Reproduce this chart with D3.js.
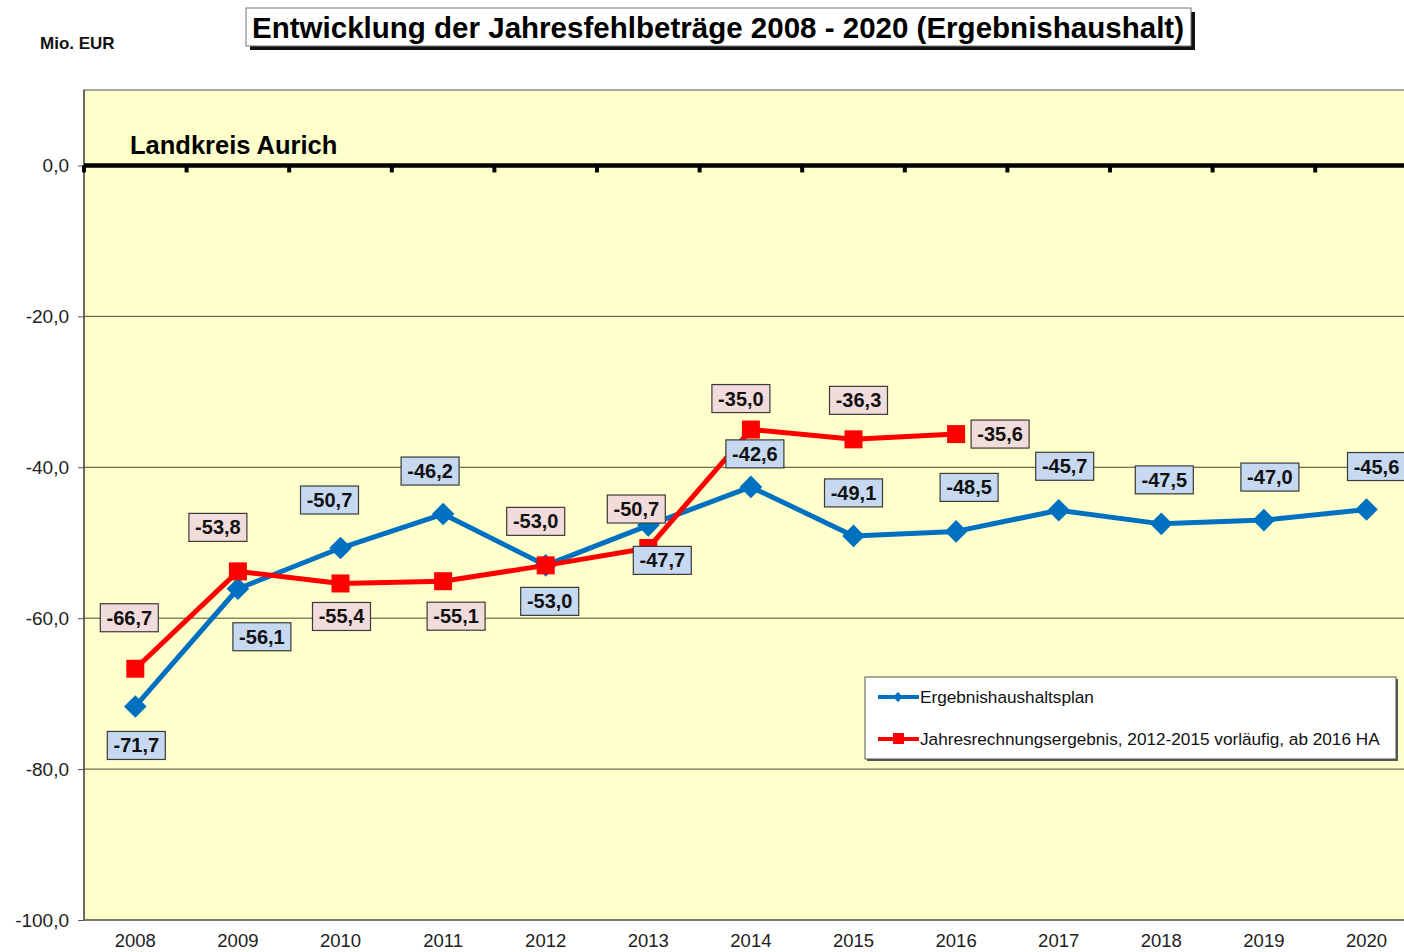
<!DOCTYPE html>
<html>
<head>
<meta charset="utf-8">
<script src="https://cdn.jsdelivr.net/npm/d3@7"></script>
<style>
  body { margin: 0; background: #fff; }
  svg { display: block; font-family: "Liberation Sans", Arial, sans-serif; }
</style>
</head>
<body>
<svg id="chart" width="1404" height="952"></svg>
<script>
// data
const years = ["2008", "2009", "2010", "2011", "2012", "2013", "2014", "2015", "2016", "2017", "2018", "2019", "2020"];
const planValues = [-71.7, -56.1, -50.7, -46.2, -53.0, -47.7, -42.6, -49.1, -48.5, -45.7, -47.5, -47.0, -45.6];
const resultValues = [-66.7, -53.8, -55.4, -55.1, -53.0, -50.7, -35.0, -36.3, -35.6];
const yTicks = [0, -20, -40, -60, -80, -100];

// where each data label sits relative to its point (layout, not data)
const planLabelOffset = [[1, 39], [24, 48], [-11, -48], [-13, -43], [4, 36], [14, 35], [4, -33], [0, -43], [13, -44], [6, -44], [3, -44], [6, -43], [10, -43]];
const resultLabelOffset = [[-6, -51], [-20, -44], [1, 33], [13, 35], [-10, -44], [-12, -39], [-10, -31], [5, -39], [44, 0]];

const svg = d3.select("#chart");
const fmt = v => d3.format(".1f")(v).replace(".", ",").replace("−", "-");

const margin = {left: 84, top: 90};
const bandW = 102.6;
const x = d3.scaleBand().domain(years).range([margin.left, margin.left + bandW * years.length]);
const y = d3.scaleLinear().domain([10, -100]).range([margin.top, 920]);
const cx = yr => x(yr) + x.bandwidth() / 2;

// plot area
svg.append("rect")
  .attr("x", x.range()[0]).attr("y", y(10))
  .attr("width", x.range()[1] - x.range()[0]).attr("height", y(-100) - y(10))
  .attr("fill", "#ffffcc").attr("stroke", "#8a8a80").attr("stroke-width", 1.5);
svg.append("line")
  .attr("x1", x.range()[0]).attr("x2", x.range()[0])
  .attr("y1", y(10)).attr("y2", y(-100))
  .attr("stroke", "#55554a").attr("stroke-width", 1.5);

// gridlines
svg.append("g").selectAll("line")
  .data(yTicks.filter(d => d !== 0 && d !== -100))
  .join("line")
  .attr("x1", x.range()[0]).attr("x2", x.range()[1])
  .attr("y1", d => y(d)).attr("y2", d => y(d))
  .attr("stroke", "#4a4a3a").attr("stroke-width", 1);
svg.append("line")
  .attr("x1", x.range()[0]).attr("x2", x.range()[1])
  .attr("y1", y(-100)).attr("y2", y(-100))
  .attr("stroke", "#6a6a5a").attr("stroke-width", 1.5);

// y axis
const yAxis = svg.append("g")
  .attr("transform", `translate(${margin.left},0)`)
  .call(d3.axisLeft(y).tickValues(yTicks).tickSize(6).tickPadding(9).tickFormat(fmt));
yAxis.select(".domain").remove();
yAxis.selectAll(".tick line").attr("stroke", "#55554a");
yAxis.selectAll("text").attr("font-size", 19).attr("fill", "#222").attr("font-family", "Liberation Sans, Arial, sans-serif");

// zero line with category ticks
svg.append("line")
  .attr("x1", x.range()[0]).attr("x2", x.range()[1])
  .attr("y1", y(0)).attr("y2", y(0))
  .attr("stroke", "#000").attr("stroke-width", 4.5);
svg.append("g").selectAll("rect")
  .data(years)
  .join("rect")
  .attr("x", d => x(d) - 2).attr("y", y(0))
  .attr("width", 4).attr("height", 7)
  .attr("fill", "#000");

// x labels
svg.append("g").selectAll("text")
  .data(years)
  .join("text")
  .attr("x", cx).attr("y", 947)
  .attr("text-anchor", "middle")
  .attr("font-size", 18.5).attr("fill", "#222")
  .text(d => d);

// lines
const line = d3.line().x(d => cx(d.year)).y(d => y(d.value));
const planData = years.map((yr, i) => ({year: yr, value: planValues[i]}));
const resultData = resultValues.map((v, i) => ({year: years[i], value: v}));

svg.append("path").datum(planData)
  .attr("d", line).attr("fill", "none")
  .attr("stroke", "#0070c0").attr("stroke-width", 5).attr("stroke-linejoin", "round");
svg.append("g").selectAll("rect")
  .data(planData)
  .join("rect")
  .attr("x", -8).attr("y", -8).attr("width", 16).attr("height", 16)
  .attr("transform", d => `translate(${cx(d.year)},${y(d.value)}) rotate(45)`)
  .attr("fill", "#0070c0");

svg.append("path").datum(resultData)
  .attr("d", line).attr("fill", "none")
  .attr("stroke", "#ff0000").attr("stroke-width", 5).attr("stroke-linejoin", "round");
svg.append("g").selectAll("rect")
  .data(resultData)
  .join("rect")
  .attr("x", d => cx(d.year) - 9).attr("y", d => y(d.value) - 9)
  .attr("width", 18).attr("height", 18)
  .attr("fill", "#ff0000");

// data labels
function drawLabels(data, offsets, fill) {
  const g = svg.append("g").selectAll("g")
    .data(data)
    .join("g")
    .attr("transform", (d, i) => `translate(${cx(d.year) + offsets[i][0]},${y(d.value) + offsets[i][1]})`);
  g.append("rect")
    .attr("x", -29).attr("y", -14).attr("width", 58).attr("height", 28)
    .attr("fill", fill).attr("stroke", "#3a3a3a").attr("stroke-width", 1.2);
  g.append("text")
    .attr("y", 7).attr("text-anchor", "middle")
    .attr("font-size", 20).attr("font-weight", "bold").attr("fill", "#111")
    .text(d => fmt(d.value));
}
drawLabels(resultData, resultLabelOffset, "#f2dcdb");
drawLabels(planData, planLabelOffset, "#c6d9f1");

// legend
const legend = svg.append("g").attr("transform", "translate(865,677)");
legend.append("rect").attr("x", 2).attr("y", 2).attr("width", 531).attr("height", 82).attr("fill", "#555");
legend.append("rect").attr("width", 531).attr("height", 82).attr("fill", "#fff").attr("stroke", "#555").attr("stroke-width", 1);
const legendItems = [
  {label: "Ergebnishaushaltsplan", color: "#0070c0", shape: "diamond", dy: 20},
  {label: "Jahresrechnungsergebnis, 2012-2015 vorläufig, ab 2016 HA", color: "#ff0000", shape: "square", dy: 62}
];
const li = legend.selectAll("g.item").data(legendItems).join("g").attr("class", "item")
  .attr("transform", d => `translate(0,${d.dy})`);
li.append("line").attr("x1", 13).attr("x2", 54).attr("stroke", d => d.color).attr("stroke-width", 4);
li.filter(d => d.shape === "diamond").append("rect")
  .attr("x", -3.5).attr("y", -3.5).attr("width", 7).attr("height", 7)
  .attr("transform", "translate(33,0) rotate(45)").attr("fill", d => d.color);
li.filter(d => d.shape === "square").append("rect")
  .attr("x", 28).attr("y", -6).attr("width", 11).attr("height", 11).attr("fill", d => d.color);
li.append("text").attr("x", 55).attr("y", 6).attr("font-size", 17.2).attr("fill", "#111").text(d => d.label);

// titles
svg.append("rect").attr("x", 250).attr("y", 12).attr("width", 945).attr("height", 38).attr("fill", "#111");
svg.append("rect").attr("x", 246).attr("y", 8).attr("width", 945).attr("height", 38)
  .attr("fill", "#fff").attr("stroke", "#777").attr("stroke-width", 1);
svg.append("text").attr("x", 718).attr("y", 38).attr("text-anchor", "middle")
  .attr("font-size", 30).attr("font-weight", "bold").attr("fill", "#000")
  .attr("textLength", 932).attr("lengthAdjust", "spacingAndGlyphs")
  .text("Entwicklung der Jahresfehlbeträge 2008 - 2020 (Ergebnishaushalt)");

svg.append("text").attr("x", 40).attr("y", 49)
  .attr("font-size", 17).attr("font-weight", "bold").attr("fill", "#111").text("Mio. EUR");
svg.append("text").attr("x", 130).attr("y", 154)
  .attr("font-size", 25.5).attr("font-weight", "bold").attr("fill", "#000").text("Landkreis Aurich");
</script>
</body>
</html>
